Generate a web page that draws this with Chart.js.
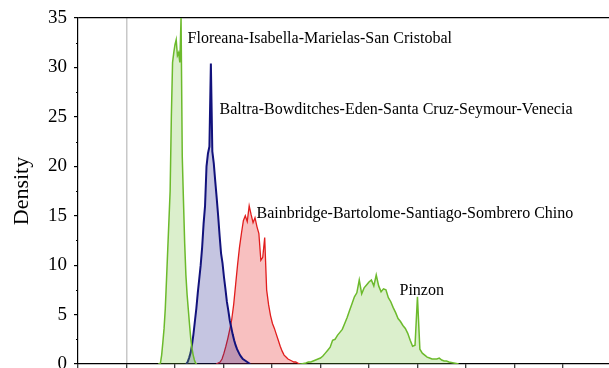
<!DOCTYPE html>
<html>
<head>
<meta charset="utf-8">
<script src="https://cdn.jsdelivr.net/npm/chart.js@4.4.1/dist/chart.umd.min.js"></script>
<style>
  html, body { margin: 0; padding: 0; background: #fff; overflow: hidden; }
  #wrap { width: 609px; height: 368px; }
</style>
</head>
<body>
<div id="wrap"><canvas id="chart"></canvas></div>
<script>
// group names (same order as the series below)
const groupNames = [
    "Floreana-Isabella-Marielas-San Cristobal",
    "Baltra-Bowditches-Eden-Santa Cruz-Seymour-Venecia",
    "Bainbridge-Bartolome-Santiago-Sombrero Chino",
    "Pinzon",
];

// histogram bins: first bin centre and bin width for each series
const binStart = [0.65, 1.23, 1.85, 3.55];
const binWidth = [0.025, 0.03, 0.04, 0.05];

// densities
const floreanaDensity = [
    0, 0, 0.1, 0.9, 2.2, 3.6, 5.6, 8.5, 11.5, 14.5, 17.5, 25, 30.5, 31.5, 32.3, 32.8,
    31.2, 31.5, 30.5, 35, 21, 16.5, 12.2, 9, 7, 5.5, 4, 2.6, 1.6, 0.9, 0.4, 0.1, 0,
];
const baltraDensity = [
    0, 0.2, 0.6, 1.1, 1.9, 3.0, 4.3, 5.6, 7.2, 8.6, 10.0, 11.8, 14.2, 16.0, 20.0, 21.3,
    22.0, 30.4, 21.5, 20.3, 18.5, 16.8, 15.0, 13.0, 11.2, 10.2, 8.8, 7.6, 6.3, 5.4, 4.4,
    3.7, 3.0, 2.4, 1.9, 1.5, 1.2, 0.9, 0.7, 0.5, 0.4, 0.3, 0.2, 0.1, 0,
];
const bainbridgeDensity = [
    0, 0.1, 0.2, 0.5, 1.1, 1.8, 2.6, 3.5, 4.5, 6.0, 8.0, 10.0, 11.8, 13.2, 14.5, 15.0,
    14.4, 16.0, 15.1, 14.3, 14.8, 13.9, 13.2, 10.5, 10.8, 12.8, 7.5, 6.0, 4.9, 4.1, 3.6,
    3.0, 2.4, 1.8, 1.3, 0.9, 0.7, 0.5, 0.4, 0.3, 0.2, 0.2, 0.1, 0,
];
const pinzonDensity = [
    0, 0, 0.05, 0.1, 0.2, 0.2, 0.3, 0.4, 0.5, 0.6, 0.8, 1.1, 1.4, 1.7, 2.4, 2.5, 2.9,
    3.2, 3.5, 4.1, 4.7, 5.4, 6.1, 6.8, 7.2, 8.5, 7.1, 7.7, 8.0, 8.3, 8.5, 7.9, 9.0, 7.9,
    7.3, 7.6, 7.5, 6.7, 6.3, 5.7, 5.2, 4.6, 4.3, 3.9, 3.6, 3.1, 2.4, 1.8, 1.9, 6.8, 1.5,
    1.1, 0.9, 0.7, 0.6, 0.5, 0.5, 0.5, 0.6, 0.4, 0.3, 0.3, 0.2, 0.15, 0.1, 0.05, 0,
];

// y axis ticks
const yTicks = [0, 5, 10, 15, 20, 25, 30, 35];

const seriesValues = [floreanaDensity, baltraDensity, bainbridgeDensity, pinzonDensity];
const lineColors = ["#6cba2c", "#12127c", "#e11d1d", "#6cba2c"];
const fillColors = [
    "rgba(110, 190, 50, 0.25)",
    "rgba(30, 30, 140, 0.26)",
    "rgba(230, 30, 30, 0.28)",
    "rgba(110, 190, 50, 0.25)",
];
const lineWidths = [1.5, 2, 1.3, 1.5];

const toPoints = (values, start, step) =>
    values.map((y, i) => ({ x: start + i * step, y }));

const serif = "'Liberation Serif', 'Times New Roman', serif";

// group names written next to their curves, anchored in data units
const groupLabels = {
    id: "groupLabels",
    afterDatasetsDraw(chart, args, opts) {
        const { ctx, scales } = chart;
        ctx.save();
        ctx.font = `${opts.size}px ${serif}`;
        ctx.fillStyle = "#000";
        ctx.textBaseline = "middle";
        opts.anchors.forEach((a, i) => {
            ctx.fillText(groupNames[i], scales.x.getPixelForValue(a[0]), scales.y.getPixelForValue(a[1]));
        });
        ctx.restore();
    },
};

// short minor ticks half way between the labelled ones
const minorTicks = {
    id: "minorTicks",
    afterDraw(chart) {
        const { ctx, scales, chartArea } = chart;
        ctx.save();
        ctx.strokeStyle = "#000";
        ctx.lineWidth = 1;
        yTicks.slice(0, -1).forEach((v) => {
            const py = Math.round(scales.y.getPixelForValue(v + 2.5)) + 0.5;
            ctx.beginPath();
            ctx.moveTo(chartArea.left - 2, py);
            ctx.lineTo(chartArea.left, py);
            ctx.stroke();
        });
        ctx.restore();
    },
};

new Chart(document.getElementById("chart"), {
    type: "line",
    data: {
        datasets: seriesValues.map((values, i) => ({
            label: groupNames[i],
            data: toPoints(values, binStart[i], binWidth[i]),
            borderColor: lineColors[i],
            backgroundColor: fillColors[i],
            borderWidth: lineWidths[i],
            fill: "origin",
            pointRadius: 0,
            tension: 0,
        })),
    },
    options: {
        responsive: true,
        maintainAspectRatio: false,
        animation: false,
        layout: { padding: { top: 18, right: 0, bottom: 0, left: 0 } },
        plugins: {
            legend: { display: false },
            tooltip: { enabled: false },
            groupLabels: {
                size: 16,
                anchors: [[1.26, 32.9], [1.92, 25.7], [2.68, 15.2], [5.63, 7.4]],
            },
        },
        scales: {
            x: {
                type: "linear",
                min: -1,
                max: 9.95,
                afterFit: (s) => {
                    s.height = 4;
                    s.paddingLeft = 0;
                    s.paddingRight = 0;
                },
                ticks: { display: false, stepSize: 1, includeBounds: false },
                grid: {
                    color: (c) => (c.tick && c.tick.value === 0 ? "#c8c8c8" : "rgba(0,0,0,0)"),
                    lineWidth: 1.5,
                    tickColor: "#000",
                    tickLength: 4,
                    tickWidth: 1,
                },
                border: { color: "#000", width: 1.2 },
            },
            y: {
                min: 0,
                max: 35,
                afterFit: (s) => {
                    s.width = 78;
                    s.paddingTop = 0;
                    s.paddingBottom = 0;
                },
                ticks: {
                    stepSize: 5,
                    padding: 7,
                    color: "#000",
                    font: { family: serif, size: 19 },
                },
                grid: {
                    color: (c) => (c.tick && c.tick.value === 35 ? "#000" : "rgba(0,0,0,0)"),
                    tickColor: "#000",
                    tickLength: 4,
                    lineWidth: 1.2,
                },
                border: { color: "#000", width: 1.2 },
                title: {
                    display: true,
                    text: "Density",
                    color: "#000",
                    font: { family: serif, size: 22 },
                    padding: { top: 9, bottom: 0 },
                },
            },
        },
    },
    plugins: [groupLabels, minorTicks],
});
</script>
</body>
</html>
